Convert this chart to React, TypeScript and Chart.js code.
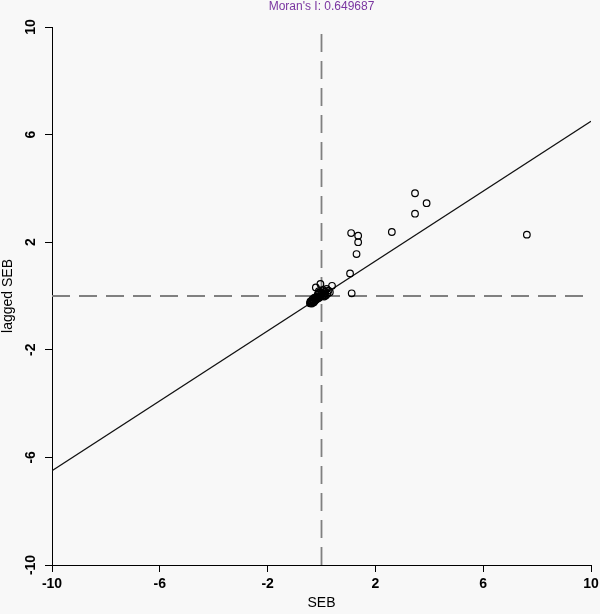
import { useEffect, useRef } from "react";
import { Chart, registerables } from "chart.js";

Chart.register(...registerables);

const TITLE = "Moran's I: 0.649687";
const X_LABEL = "SEB";
const Y_LABEL = "lagged SEB";
const TICK_VALUES = [-10, -6, -2, 2, 6, 10];

// SEB values (x) and lagged SEB values (y)
const seb = [
  3.47, 3.9, 3.47, 2.61, 1.1, 1.36, 1.36, 1.3, 1.06, 1.12, 7.62,
  -0.04, -0.21, 0.39, 0.19, 0.31, 0.06, -0.1, 0.12, 0.0, -0.06, 0.22, 0.16, -0.14, -0.2,
  -0.25, -0.3, -0.35, -0.4, -0.43, -0.38, -0.32, -0.28, -0.36, -0.22, -0.18, -0.12, -0.08,
  -0.02, 0.04, 0.08, 0.1, -0.26, -0.16, -0.05, 0.02, 0.26, -0.33, -0.41, -0.3, -0.24, 0.14, -0.09,
];
const laggedSeb = [
  3.82, 3.45, 3.06, 2.38, 2.34, 2.24, 2.0, 1.56, 0.84, 0.1, 2.28,
  0.45, 0.32, 0.38, 0.26, 0.14, 0.22, 0.18, 0.1, 0.05, -0.03, 0.08, 0.02, 0.06, -0.05,
  -0.1, -0.15, -0.2, -0.25, -0.27, -0.22, -0.18, -0.22, -0.28, -0.14, -0.12, -0.08, -0.06,
  -0.01, 0.0, 0.04, -0.02, -0.06, -0.02, 0.08, 0.12, 0.2, -0.12, -0.2, -0.24, -0.18, 0.16, 0.12,
];

// regression line end points
const fitX = [-10, 10];
const fitY = [-6.497, 6.497];

// reference (mean) lines
const meanX = 0;
const meanY = 0;
const AXIS_MIN = -10;
const AXIS_MAX = 10;

const FONT = "'Liberation Sans', Arial, sans-serif";

export default function App() {
  const ref = useRef<HTMLCanvasElement | null>(null);

  useEffect(() => {
    document.body.style.margin = "0";
    document.body.style.background = "#f8f8f8";
    const canvas = ref.current;
    if (!canvas) return;

    const textPlugin = {
      id: "moranText",
      beforeDraw(chart: any) {
        const ctx = chart.ctx;
        ctx.save();
        ctx.fillStyle = "#f8f8f8";
        ctx.fillRect(0, 0, chart.width, chart.height);
        ctx.restore();
      },
      afterDraw(chart: any) {
        const ctx = chart.ctx;
        const ys = chart.scales.y;
        const ca = chart.chartArea;
        ctx.save();
        // title
        ctx.fillStyle = "#7a35a0";
        ctx.font = `12px ${FONT}`;
        ctx.textAlign = "center";
        ctx.textBaseline = "alphabetic";
        ctx.fillText(TITLE, (ca.left + ca.right) / 2, 10);
        // y tick labels (rotated)
        ctx.fillStyle = "#000";
        ctx.font = `bold 14px ${FONT}`;
        ctx.textBaseline = "middle";
        for (const v of TICK_VALUES) {
          const py = ys.getPixelForValue(v);
          ctx.save();
          ctx.translate(31, py);
          ctx.rotate(-Math.PI / 2);
          ctx.fillText(String(v), 0, 0);
          ctx.restore();
        }
        // axis titles
        ctx.font = `14px ${FONT}`;
        ctx.fillText(X_LABEL, (ca.left + ca.right) / 2, 603);
        ctx.save();
        ctx.translate(8, (ca.top + ca.bottom) / 2);
        ctx.rotate(-Math.PI / 2);
        ctx.fillText(Y_LABEL, 0, 0);
        ctx.restore();
        ctx.restore();
      },
    };

    const points = seb.map((x, i) => ({ x, y: laggedSeb[i] }));
    const fit = fitX.map((x, i) => ({ x, y: fitY[i] }));

    const chart = new Chart(canvas, {
      type: "scatter",
      data: {
        datasets: [
          {
            type: "scatter",
            data: points,
            pointRadius: 3.3,
            pointBorderWidth: 1.2,
            borderColor: "#000",
            backgroundColor: "rgba(0,0,0,0)",
            order: 0,
          },
          {
            type: "line",
            data: fit,
            borderColor: "#111",
            borderWidth: 1.3,
            pointRadius: 0,
            order: 1,
          },
          {
            type: "line",
            data: [
              { x: meanX, y: AXIS_MIN },
              { x: meanX, y: AXIS_MAX },
            ],
            borderColor: "#808080",
            borderWidth: 1.8,
            borderDash: [18, 9],
            pointRadius: 0,
            order: 2,
          },
          {
            type: "line",
            data: [
              { x: AXIS_MIN, y: meanY },
              { x: AXIS_MAX, y: meanY },
            ],
            borderColor: "#808080",
            borderWidth: 1.8,
            borderDash: [18, 9],
            pointRadius: 0,
            order: 3,
          },
        ],
      } as any,
      options: {
        responsive: false,
        animation: false,
        layout: { padding: { top: 27, right: 9, left: 0, bottom: 0 } },
        plugins: {
          legend: { display: false },
          tooltip: { enabled: false },
          title: { display: false },
        },
        scales: {
          x: {
            type: "linear",
            min: AXIS_MIN,
            max: AXIS_MAX,
            afterBuildTicks: (s: any) => {
              s.ticks = TICK_VALUES.map((value) => ({ value }));
            },
            afterFit: (s: any) => {
              s.height = 49;
              s.paddingRight = 0;
              s.paddingLeft = 0;
            },
            grid: {
              display: true,
              drawOnChartArea: false,
              drawTicks: true,
              tickLength: 7,
              color: "#000",
              lineWidth: 1,
            },
            border: { display: true, color: "#000", width: 1 },
            ticks: {
              color: "#000",
              font: { family: FONT, size: 14, weight: "bold" },
              padding: 4,
              maxRotation: 0,
              minRotation: 0,
            },
          },
          y: {
            type: "linear",
            min: AXIS_MIN,
            max: AXIS_MAX,
            afterBuildTicks: (s: any) => {
              s.ticks = TICK_VALUES.map((value) => ({ value }));
            },
            afterFit: (s: any) => {
              s.width = 52;
            },
            grid: {
              display: true,
              drawOnChartArea: false,
              drawTicks: true,
              tickLength: 7,
              color: "#000",
              lineWidth: 1,
            },
            border: { display: true, color: "#000", width: 1 },
            ticks: { display: false },
          },
        },
      } as any,
      plugins: [textPlugin],
    });

    return () => chart.destroy();
  }, []);

  return (
    <div style={{ width: 600, height: 614 }}>
      <canvas ref={ref} width={600} height={614} />
    </div>
  );
}
